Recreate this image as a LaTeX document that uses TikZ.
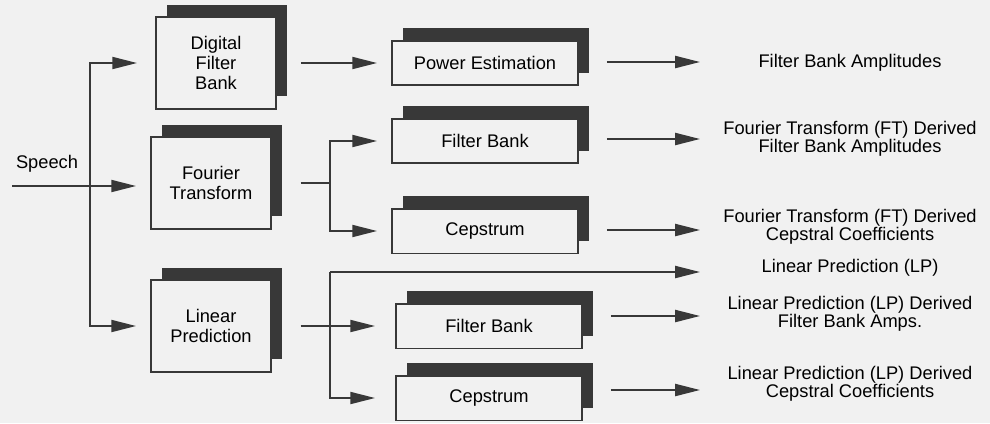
\documentclass[tikz,border=0pt]{standalone}
\usepackage{fontspec}
\setmainfont{Liberation Sans}
\usetikzlibrary{arrows.meta,shadows}
\definecolor{paper}{rgb}{0.945,0.945,0.945}
\definecolor{ink}{rgb}{0.22,0.22,0.22}

\begin{document}
\begin{tikzpicture}[x=0.025cm,y=-0.025cm,
  every node/.style={font=\fontsize{13}{14}\selectfont},
  unit/.style={draw=ink,line width=1.3pt,fill=paper,align=center,
    general shadow={fill=ink,shadow xshift=0.28cm,shadow yshift=0.32cm}},
  big/.style={unit,minimum width=3cm,minimum height=2.28cm},
  small/.style={unit,minimum width=4.65cm,minimum height=1.12cm},
  result/.style={align=center,font=\fontsize{13}{12.5}\selectfont},
  wire/.style={draw=ink,line width=1.4pt},
  arr/.style={wire,-{Triangle[length=0.62cm,width=0.3cm]}}]
\useasboundingbox[fill=paper] (0,0) rectangle (990,423);

\node (speech) at (47,164) {Speech};
\node[big] (dfb) at (216,63) {Digital\\Filter\\Bank};
\node[big] (ft) at (211,183) {Fourier\\Transform};
\node[big] (lp) at (211,326) {Linear\\Prediction};
\node[small] (pe) at (485,63) {Power Estimation};
\node[small] (fbf) at (485,141) {Filter Bank};
\node[small] (cf) at (485,231) {Cepstrum};
\node[small] (fbl) at (489,326) {Filter Bank};
\node[small] (cl) at (489,398) {Cepstrum};

\node[result] (o1) at (850,63) {Filter Bank Amplitudes};
\node[result] (o2) at (850,139) {Fourier Transform (FT) Derived\\Filter Bank Amplitudes};
\node[result] (o3) at (850,227) {Fourier Transform (FT) Derived\\Cepstral Coefficients};
\node[result] (o4) at (850,268) {Linear Prediction (LP)};
\node[result] (o5) at (850,314) {Linear Prediction (LP) Derived\\Filter Bank Amps.};
\node[result] (o6) at (850,384) {Linear Prediction (LP) Derived\\Cepstral Coefficients};

\coordinate (in) at (12,186);
\coordinate (fork) at (90,186);
\coordinate (ftfork) at (330,184);
\coordinate (lpfork) at (330,272);
\coordinate (tip) at (700,0);

% speech input
\draw[arr,shorten >=0.35cm] (in) -- (in -| ft.west);
\draw[arr,shorten >=0.45cm] (fork |- lp.west) |- (dfb.west);
\draw[arr,shorten >=0.35cm] (fork |- dfb.west) |- (lp.west);

\draw[arr,shorten <=0.6cm,shorten >=0.35cm] (dfb.east) -- (pe.west);

\draw[wire,shorten <=0.72cm] (ft.east) -- (ftfork |- ft.east);
\draw[arr,shorten >=0.35cm] (ftfork |- cf.west) |- (fbf.west);
\draw[arr,shorten >=0.35cm] (ftfork |- fbf.west) |- (cf.west);

\draw[arr,shorten <=0.72cm,shorten >=0.5cm] (lp.east) -- (fbl.west);
\draw[arr] (lpfork) -- (lpfork -| tip);
\draw[arr,shorten >=0.5cm] (lpfork) |- (cl.west);

% outputs
\foreach \b/\y in {pe/62,fbf/139,cf/230,fbl/316,cl/390} {
  \coordinate (end\b) at (700,\y);
  \draw[arr,shorten <=0.7cm] (\b.east |- end\b) -- (end\b);
}
\end{tikzpicture}
\end{document}
